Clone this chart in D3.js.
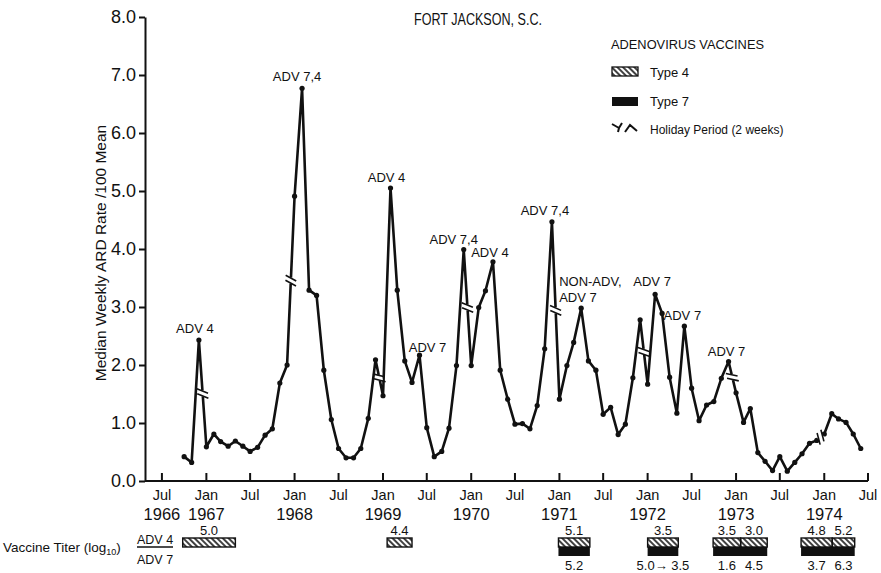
<!DOCTYPE html>
<html>
<head>
<meta charset="utf-8">
<script src="https://cdn.jsdelivr.net/npm/d3@7"></script>
<style>
  body { margin: 0; background: #fff; }
  text { font-family: "Liberation Sans", Arial, sans-serif; fill: #111; }
</style>
</head>
<body>
<div id="chart"></div>
<script>
// monthly median weekly ARD rate, Oct 1966 .. Jun 1974
const firstMonth = new Date(1966, 9, 1);
const ardRate = [
  0.42, 0.32, 2.43,                                                        // 1966 Oct-Dec
  0.59, 0.81, 0.68, 0.60, 0.69, 0.60, 0.51, 0.58, 0.79, 0.90, 1.69, 2.00,  // 1967
  4.91, 6.77, 3.29, 3.20, 1.91, 1.06, 0.56, 0.40, 0.40, 0.56, 1.08, 2.09,  // 1968
  1.47, 5.05, 3.29, 2.07, 1.70, 2.17, 0.92, 0.42, 0.51, 0.91, 1.99, 3.99,  // 1969
  1.99, 2.99, 3.28, 3.78, 1.91, 1.41, 0.98, 0.99, 0.90, 1.30, 2.28, 4.47,  // 1970
  1.41, 1.99, 2.39, 2.98, 2.07, 1.91, 1.15, 1.27, 0.80, 0.98, 1.78, 2.78,  // 1971
  1.67, 3.22, 2.89, 1.79, 1.17, 2.67, 1.60, 1.04, 1.31, 1.37, 1.77, 2.06,  // 1972
  1.52, 1.01, 1.25, 0.49, 0.34, 0.18, 0.42, 0.17, 0.32, 0.47, 0.65, 0.70,  // 1973
  0.81, 1.16, 1.07, 1.01, 0.81, 0.56                                       // 1974 Jan-Jun
];

// holiday break (2 weeks) between Dec of these years and the next Jan
const holidayYears = [1966, 1967, 1968, 1969, 1970, 1971, 1972, 1973];

const yTicks = [0, 1, 2, 3, 4, 5, 6, 7, 8];
const yearLabels = ["1966", "1967", "1968", "1969", "1970", "1971", "1972", "1973", "1974"];

// peak annotations: month of the point and text lines
const annotMonths = ["1966-12", "1968-02", "1969-02", "1969-06", "1969-12", "1970-04",
                     "1970-12", "1971-04", "1972-02", "1972-06", "1972-12"];
const annotTexts = [["ADV 4"], ["ADV 7,4"], ["ADV 4"], ["ADV 7"], ["ADV 7,4"], ["ADV 4"],
                    ["ADV 7,4"], ["NON-ADV,", "ADV 7"], ["ADV 7"], ["ADV 7"], ["ADV 7"]];
const annotDx = [-4, -5, -4, 8, -10, -3, -7, -22, -3, -2, -2];
const annotDy = [-7, -7, -6, -3, -6, -5, -7, -6, -8, -6, -6];

// vaccine periods (start, end)
const type4Periods = [
  ["1966-09-25", "1967-05-01"], ["1969-01-18", "1969-05-01"], ["1970-12-28", "1971-05-07"],
  ["1972-01-01", "1972-05-07"], ["1972-09-28", "1973-01-20"], ["1973-01-20", "1973-05-10"],
  ["1973-09-27", "1974-02-03"], ["1974-02-03", "1974-05-07"]
];
const type4Titers = ["5.0", "4.4", "5.1", "3.5", "3.5", "3.0", "4.8", "5.2"];
const type7Periods = [
  ["1970-12-28", "1971-05-07"], ["1972-01-01", "1972-05-07"],
  ["1972-09-28", "1973-05-10"], ["1973-09-27", "1974-05-07"]
];
const type7TiterSpans = [
  ["1970-12-28", "1971-05-07"], ["1972-01-01", "1972-05-07"],
  ["1972-09-28", "1973-01-20"], ["1973-01-20", "1973-05-10"],
  ["1973-09-27", "1974-02-03"], ["1974-02-03", "1974-05-07"]
];
const type7Titers = ["5.2", "5.0\u2192 3.5", "1.6", "4.5", "3.7", "6.3"];

const W = 881, H = 573;
const parse = d3.timeParse("%Y-%m-%d");
const parseMonth = d3.timeParse("%Y-%m");

const svg = d3.select("#chart").append("svg")
  .attr("width", W).attr("height", H);

const x = d3.scaleTime()
  .domain([new Date(1966, 3, 22), new Date(1974, 6, 1)])
  .range([145, 868]);
const y = d3.scaleLinear().domain([0, 8]).range([481, 17]);

const data = ardRate.map((v, i) => ({ date: d3.timeMonth.offset(firstMonth, i), value: v }));

// hatch pattern for type 4
const defs = svg.append("defs");
defs.append("pattern")
  .attr("id", "hatch")
  .attr("patternUnits", "userSpaceOnUse")
  .attr("width", 4).attr("height", 10)
  .attr("patternTransform", "rotate(-45)")
  .append("line")
    .attr("x1", 1).attr("y1", 0).attr("x2", 1).attr("y2", 10)
    .attr("stroke", "#111").attr("stroke-width", 1.6);

// y axis
const yAxis = svg.append("g")
  .attr("transform", "translate(145,0)")
  .call(d3.axisLeft(y).tickValues(yTicks).tickFormat(d3.format(".1f")).tickSize(6).tickSizeOuter(0).tickPadding(3));
yAxis.select(".domain").attr("stroke", "#111").attr("stroke-width", 2);
yAxis.selectAll(".tick line").attr("stroke", "#111").attr("stroke-width", 2);
yAxis.selectAll(".tick text")
  .style("font-family", "'Liberation Sans', Arial, sans-serif")
  .attr("font-size", 18).attr("fill", "#111");

svg.append("text")
  .attr("transform", `translate(106,${(y(0) + y(8)) / 2 + 4}) rotate(-90)`)
  .attr("text-anchor", "middle")
  .attr("font-size", 15.5)
  .text("Median Weekly ARD Rate /100 Mean");

// x axis, ticks pointing up
const halfYears = d3.timeMonth.every(6).range(new Date(1966, 6, 1), new Date(1974, 6, 2));
svg.append("line")
  .attr("x1", 145).attr("x2", x(new Date(1974, 6, 1)))
  .attr("y1", y(0)).attr("y2", y(0))
  .attr("stroke", "#111").attr("stroke-width", 2);
svg.selectAll(".xtick").data(halfYears).enter()
  .append("line")
    .attr("x1", d => x(d)).attr("x2", d => x(d))
    .attr("y1", y(0)).attr("y2", y(0) - 8)
    .attr("stroke", "#111").attr("stroke-width", 2);
svg.selectAll(".xlab").data(halfYears).enter()
  .append("text")
    .attr("x", d => x(d)).attr("y", 500)
    .attr("text-anchor", "middle").attr("font-size", 14.5)
    .text(d => d.getMonth() === 0 ? "Jan" : "Jul");
svg.selectAll(".ylab").data(yearLabels).enter()
  .append("text")
    .attr("x", d => d === "1966" ? x(new Date(1966, 6, 1)) : x(new Date(+d, 0, 1)))
    .attr("y", 520)
    .attr("text-anchor", "middle").attr("font-size", 16.5)
    .text(d => d);

// data line
const line = d3.line().x(d => x(d.date)).y(d => y(d.value));
svg.append("path")
  .datum(data)
  .attr("d", line)
  .attr("fill", "none")
  .attr("stroke", "#111")
  .attr("stroke-width", 2.6)
  .attr("stroke-linejoin", "round");

svg.selectAll(".pt").data(data).enter()
  .append("circle")
    .attr("cx", d => x(d.date)).attr("cy", d => y(d.value))
    .attr("r", 2.6).attr("fill", "#111");

// holiday break marks on the Dec -> Jan segments
holidayYears.forEach(yr => {
  const a = data.find(d => d.date.getFullYear() === yr && d.date.getMonth() === 11);
  const b = data.find(d => d.date.getFullYear() === yr + 1 && d.date.getMonth() === 0);
  if (!a || !b) return;
  const x0 = x(a.date), y0 = y(a.value), x1 = x(b.date), y1 = y(b.value);
  const len = Math.hypot(x1 - x0, y1 - y0);
  const ux = (x1 - x0) / len, uy = (y1 - y0) / len;
  const cx = (x0 + x1) / 2, cy = (y0 + y1) / 2;
  // cross direction: perpendicular, tilted a bit
  const ang = Math.atan2(uy, ux) + Math.PI / 2 + 0.45;
  const nx = Math.cos(ang), ny = Math.sin(ang);
  const g = svg.append("g");
  g.append("line")
    .attr("x1", cx - ux * 3).attr("y1", cy - uy * 3)
    .attr("x2", cx + ux * 3).attr("y2", cy + uy * 3)
    .attr("stroke", "#fff").attr("stroke-width", 6);
  [-2.5, 2.5].forEach(o => {
    const px = cx + ux * o, py = cy + uy * o;
    g.append("line")
      .attr("x1", px - nx * 6).attr("y1", py - ny * 6)
      .attr("x2", px + nx * 6).attr("y2", py + ny * 6)
      .attr("stroke", "#111").attr("stroke-width", 1.6);
  });
});

// annotations
annotMonths.forEach((m, i) => {
  const dt = parseMonth(m);
  const d = data.find(p => +p.date === +dt);
  const lines = annotTexts[i];
  const multi = lines.length > 1;
  const t = svg.append("text")
    .attr("text-anchor", multi ? "start" : "middle")
    .attr("font-size", 13);
  lines.forEach((s, k) => {
    t.append("tspan")
      .attr("x", x(d.date) + annotDx[i])
      .attr("y", y(d.value) + annotDy[i] - (lines.length - 1 - k) * 16)
      .text(s);
  });
});

// title
svg.append("text")
  .attr("x", 478).attr("y", 25)
  .attr("text-anchor", "middle")
  .attr("font-size", 17)
  .attr("textLength", 128).attr("lengthAdjust", "spacingAndGlyphs")
  .text("FORT JACKSON, S.C.");

// legend
const lg = svg.append("g").attr("transform", "translate(611,0)");
lg.append("text").attr("x", 0).attr("y", 49).attr("font-size", 12.5)
  .attr("textLength", 153).attr("lengthAdjust", "spacingAndGlyphs")
  .text("ADENOVIRUS VACCINES");
lg.append("rect").attr("x", 1).attr("y", 67).attr("width", 26).attr("height", 9)
  .attr("fill", "url(#hatch)").attr("stroke", "#111").attr("stroke-width", 1.3);
lg.append("text").attr("x", 39).attr("y", 77).attr("font-size", 13).text("Type 4");
lg.append("rect").attr("x", 1).attr("y", 97).attr("width", 26).attr("height", 9)
  .attr("fill", "#111");
lg.append("text").attr("x", 39).attr("y", 106).attr("font-size", 13).text("Type 7");
lg.append("path")
  .attr("d", "M1,124 L8,128 L11,123 M8,128 L7,132 M14,132 L19,125 L26,131")
  .attr("fill", "none").attr("stroke", "#111").attr("stroke-width", 2);
lg.append("text").attr("x", 39).attr("y", 134).attr("font-size", 12).text("Holiday Period (2 weeks)");

// vaccine titer rows
const vt = svg.append("text").attr("x", 3).attr("y", 552).attr("font-size", 13.5);
vt.append("tspan").text("Vaccine Titer (log");
vt.append("tspan").attr("font-size", 9).attr("dy", 3).text("10");
vt.append("tspan").attr("dy", -3).text(")");
svg.append("text").attr("x", 137).attr("y", 544).attr("font-size", 12.5).text("ADV 4");
svg.append("text").attr("x", 137).attr("y", 564).attr("font-size", 12.5).text("ADV 7");
svg.append("line").attr("x1", 137).attr("x2", 173).attr("y1", 547).attr("y2", 547)
  .attr("stroke", "#111").attr("stroke-width", 1.5);

const barTop = 538, barH = 9;
svg.selectAll(".t7").data(type7Periods).enter()
  .append("rect")
    .attr("x", d => x(parse(d[0])))
    .attr("width", d => x(parse(d[1])) - x(parse(d[0])))
    .attr("y", barTop + barH).attr("height", barH)
    .attr("fill", "#111");
svg.selectAll(".t4").data(type4Periods).enter()
  .append("rect")
    .attr("x", d => x(parse(d[0])))
    .attr("width", d => x(parse(d[1])) - x(parse(d[0])))
    .attr("y", barTop).attr("height", barH)
    .attr("fill", "url(#hatch)")
    .attr("stroke", "#111").attr("stroke-width", 1.4);
svg.selectAll(".t4lab").data(type4Periods).enter()
  .append("text")
    .attr("x", d => (x(parse(d[0])) + x(parse(d[1]))) / 2)
    .attr("y", 535)
    .attr("text-anchor", "middle").attr("font-size", 13)
    .text((d, i) => type4Titers[i]);
svg.selectAll(".t7lab").data(type7TiterSpans).enter()
  .append("text")
    .attr("x", d => (x(parse(d[0])) + x(parse(d[1]))) / 2)
    .attr("y", 570)
    .attr("text-anchor", "middle").attr("font-size", 13)
    .text((d, i) => type7Titers[i]);
</script>
</body>
</html>
